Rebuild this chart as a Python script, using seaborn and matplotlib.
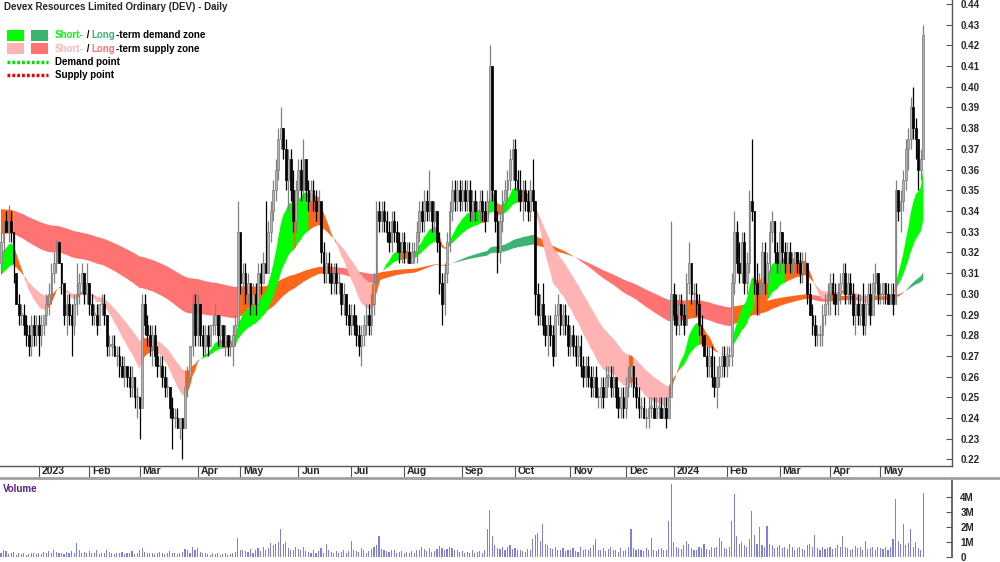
import numpy as np
import pandas as pd
import matplotlib
matplotlib.use("Agg")
import matplotlib.pyplot as plt
import matplotlib.transforms as mtransforms
from matplotlib.patches import Rectangle
import seaborn as sns

# ASX trading days on the chart
start_date = "2022-12-08"
end_date = "2024-05-24"
asx_holidays = ["2022-12-26", "2022-12-27", "2023-01-02", "2023-01-26", "2023-04-07",
                "2023-04-10", "2023-04-25", "2023-06-12", "2023-12-25", "2023-12-26",
                "2024-01-01", "2024-01-26", "2024-03-29", "2024-04-01", "2024-04-25"]

# prices in cents, one line per month (Dec-22 ... May-24)
opens = [
    31.5,32.5,33.5,33.0,33.5,33.0,31.0,29.5,29.0,29.0,28.5,28.0,27.5,28.5,28.0,
    28.5,28.0,28.5,29.0,29.5,30.0,31.0,31.5,32.5,31.5,30.5,29.0,29.5,29.0,28.5,29.5,30.0,30.5,31.0,30.0,
    30.5,29.5,29.0,29.0,28.5,29.5,29.5,29.0,27.5,27.5,27.5,27.0,27.0,26.5,26.0,26.5,26.0,25.5,26.0,25.0,
    25.0,24.5,29.5,28.5,28.0,27.5,28.0,27.0,26.5,26.5,26.0,25.5,25.5,24.5,24.0,24.0,23.5,24.0,23.5,25.5,26.0,27.5,29.5,
    28.0,29.5,28.0,27.5,28.0,27.5,28.5,28.5,29.0,28.0,28.5,27.5,28.0,27.5,27.5,28.0,28.5,
    33.0,30.5,31.0,30.0,30.5,29.5,30.0,29.5,31.0,30.5,31.5,31.0,33.0,34.0,35.0,36.0,37.5,38.0,37.0,35.5,36.5,35.0,33.5,
    35.0,36.0,35.0,36.5,35.0,34.5,35.0,34.5,34.0,34.5,32.0,31.0,31.5,31.0,30.5,31.0,30.5,30.5,29.5,30.0,29.0,
    28.5,29.0,28.5,28.0,27.5,28.0,28.5,29.0,28.5,29.5,30.5,34.0,33.5,34.0,33.5,33.0,32.5,33.5,33.0,32.5,32.0,
    32.5,32.0,32.0,31.5,32.0,32.0,33.0,34.0,33.5,34.5,34.0,34.5,33.5,34.0,32.5,30.5,29.5,31.0,32.5,34.0,35.0,34.5,35.0,
    34.5,35.0,34.5,35.0,34.0,34.5,34.0,34.0,34.5,34.0,33.5,34.5,41.0,35.0,33.5,32.0,33.5,34.5,35.0,35.5,36.5,
    37.0,35.5,35.0,34.5,35.0,34.5,34.0,35.0,34.5,30.0,29.0,29.5,28.5,28.0,28.5,28.0,27.0,29.0,29.5,28.5,29.0,28.5,
    27.5,28.0,27.5,27.0,27.5,26.5,26.0,26.5,26.0,25.5,26.0,25.0,25.0,25.5,25.0,26.0,26.0,25.5,26.0,25.0,24.5,25.0,
    24.5,25.5,26.0,26.5,25.5,25.0,24.5,24.5,24.0,24.0,24.5,24.5,24.0,24.5,24.5,24.0,24.5,24.0,25.0,
    30.0,29.0,28.5,29.5,29.0,28.5,30.5,31.5,30.0,30.0,29.5,28.5,28.0,27.0,26.5,27.0,26.0,25.5,26.0,26.5,27.0,
    26.5,27.0,27.0,30.5,33.0,31.5,31.0,32.5,30.5,31.5,34.5,34.0,30.5,30.0,30.5,32.0,30.5,31.5,33.0,33.5,32.0,
    31.5,33.0,32.0,31.5,32.0,31.5,31.5,32.0,31.5,31.0,31.5,31.5,30.0,29.0,28.5,28.0,28.0,28.0,29.0,29.5,
    30.0,30.5,30.0,29.5,30.0,30.5,31.0,30.0,30.5,30.0,29.0,29.5,29.0,29.5,28.5,29.5,30.0,29.0,30.5,31.0,
    30.0,30.0,30.5,30.0,29.5,30.0,29.5,35.0,34.0,34.5,35.5,37.0,37.5,39.0,38.0,37.5,36.0,36.5,
]
highs = [
    33.0,33.5,34.0,34.3,34.0,33.0,31.0,30.0,29.5,29.5,29.0,28.5,29.0,29.0,29.0,
    29.0,29.0,29.0,30.0,30.5,31.5,32.0,32.6,32.5,31.5,30.5,30.0,30.0,29.5,30.0,31.5,31.0,31.5,31.0,31.5,
    30.5,30.0,29.5,29.5,29.5,30.0,30.0,29.0,28.0,28.0,28.0,27.5,27.5,27.0,27.0,26.5,26.5,26.5,26.0,25.5,
    25.0,30.0,30.0,29.0,28.5,28.5,28.5,27.5,27.0,27.0,26.5,26.0,25.5,25.0,24.5,24.5,24.0,24.0,25.5,26.5,27.5,30.0,30.0,
    30.0,29.5,28.5,28.5,28.5,28.5,29.0,29.5,29.0,29.0,28.5,28.5,28.0,28.0,28.5,29.0,34.5,
    33.0,31.5,31.5,31.0,30.5,30.5,30.5,31.5,31.5,32.0,34.5,33.5,34.5,35.5,36.5,38.0,39.0,38.0,37.5,37.0,37.0,36.0,35.5,
    36.5,36.5,37.5,36.5,35.5,35.5,35.5,35.0,35.0,34.5,32.5,32.0,32.0,31.5,31.5,31.5,31.0,30.5,30.5,30.0,29.5,
    29.5,29.5,29.0,28.5,28.5,29.0,29.5,29.5,30.0,31.0,34.5,34.5,34.5,34.5,34.0,33.5,34.0,34.0,33.5,33.0,33.0,
    33.0,32.5,32.5,32.5,32.5,33.5,34.5,34.5,35.0,35.0,36.0,34.5,34.5,34.0,33.0,31.0,31.5,33.0,34.5,35.5,35.5,35.5,35.5,
    35.5,35.5,35.5,35.5,35.0,35.0,34.5,35.0,35.0,34.5,35.0,42.0,41.0,35.0,34.0,34.0,35.0,35.5,36.0,37.0,37.5,
    37.5,36.0,36.0,35.5,35.5,35.0,35.5,36.5,34.5,30.5,30.0,30.5,29.0,29.0,29.0,28.5,29.5,30.0,29.5,29.5,29.5,29.0,
    28.5,28.5,28.0,28.0,28.0,27.0,27.0,27.0,26.5,26.5,26.5,25.5,26.0,26.0,26.5,26.5,26.5,26.5,26.0,25.5,25.5,25.5,
    26.0,26.5,27.0,26.5,26.0,25.5,25.0,25.0,24.5,25.0,25.0,25.0,25.0,25.0,25.0,25.0,25.0,25.5,33.5,
    30.5,30.0,30.0,30.0,29.5,31.0,32.5,31.5,30.5,30.5,30.0,29.0,28.0,27.5,27.5,27.5,27.0,26.5,27.0,27.5,27.5,
    27.5,27.5,31.0,34.0,33.5,32.5,33.0,33.0,32.0,35.0,37.5,34.0,31.5,31.0,32.5,32.5,32.0,33.5,34.0,33.5,32.5,
    33.5,33.0,32.5,32.5,32.5,32.0,32.0,32.0,32.0,32.0,32.0,31.5,30.5,29.5,29.0,28.5,28.5,29.5,30.0,30.5,
    31.0,31.0,30.5,30.5,31.0,31.5,31.5,31.0,31.0,30.5,30.0,30.0,30.0,30.5,30.0,30.5,30.5,31.0,31.5,31.0,
    30.5,30.5,30.5,30.5,30.5,30.5,35.5,35.0,35.0,36.0,37.5,38.0,39.5,40.0,38.5,37.5,37.0,43.0,
]
lows = [
    31.0,32.0,33.0,32.5,32.5,30.5,29.5,28.5,28.5,28.0,27.5,27.0,27.0,27.5,27.5,
    27.0,27.5,28.0,28.5,29.0,29.5,30.5,31.0,31.5,30.0,28.5,28.0,28.5,27.0,28.0,29.0,29.5,30.0,29.5,29.5,
    29.0,28.5,28.5,28.0,28.5,29.0,28.5,27.0,27.0,27.0,27.0,26.5,26.0,26.0,25.5,25.5,25.0,25.0,24.5,24.0,
    23.0,24.5,28.0,27.5,27.0,26.5,26.5,26.0,26.0,25.5,25.0,25.0,24.0,22.5,23.5,23.5,23.0,22.0,23.5,25.0,26.0,27.0,27.5,
    27.5,27.5,27.0,27.0,27.0,27.5,28.0,28.0,27.5,27.5,27.5,27.0,27.0,27.0,26.5,27.5,28.5,
    30.0,29.5,29.5,29.5,29.0,29.0,29.0,29.5,30.0,30.5,31.0,31.0,32.5,33.5,34.5,35.5,37.0,36.5,35.0,34.0,34.5,33.0,33.0,
    34.5,34.5,34.5,34.5,34.0,34.0,34.0,33.5,33.5,31.5,30.5,30.5,30.5,30.0,30.0,30.0,30.0,29.0,29.0,28.5,28.0,
    28.0,28.0,27.5,27.0,26.5,27.5,28.0,28.0,28.0,29.0,30.5,33.0,33.0,33.0,32.5,32.0,32.0,32.5,32.0,31.5,31.5,
    31.5,31.5,31.5,31.5,31.5,31.5,32.5,33.0,33.0,33.5,33.5,33.0,33.0,32.0,30.0,28.5,29.0,30.5,32.0,33.5,34.0,34.0,34.0,
    34.0,34.0,34.0,33.5,33.5,33.5,33.5,33.5,33.5,33.0,33.5,34.5,34.5,33.0,31.0,31.5,33.0,34.0,34.5,35.0,35.5,
    35.0,34.5,34.0,33.5,34.0,33.5,33.5,34.0,29.0,28.5,28.5,28.0,27.5,27.0,27.5,26.5,27.0,28.5,28.0,28.0,28.0,27.0,
    27.0,27.0,26.5,26.5,26.0,25.5,25.5,25.5,25.0,25.0,25.0,24.5,24.5,24.5,25.0,25.5,25.0,25.0,24.5,24.0,24.0,24.0,
    24.0,25.0,25.5,25.0,24.5,24.0,24.0,24.0,23.5,23.5,24.0,24.0,24.0,24.0,24.0,24.0,23.5,24.0,25.0,
    28.5,28.0,28.0,28.5,28.0,28.5,30.0,29.5,29.5,29.0,28.0,27.5,27.0,26.0,26.0,25.5,25.0,24.5,25.5,26.0,26.0,
    26.0,26.5,26.5,30.0,31.0,30.5,30.5,30.0,30.0,31.0,33.5,30.0,29.0,29.0,30.0,30.0,30.0,31.0,32.5,31.5,31.0,
    31.0,31.5,31.0,31.0,31.0,31.0,31.0,31.0,30.5,30.5,31.0,29.5,29.0,28.0,27.5,27.5,27.5,27.5,28.5,29.0,
    29.0,29.5,29.0,29.0,29.5,30.0,29.5,29.5,29.5,28.5,28.0,28.5,28.5,28.0,28.0,29.0,28.5,29.0,30.0,29.5,
    29.5,29.5,29.5,29.5,29.5,29.0,29.5,33.5,33.0,34.0,35.0,36.0,37.0,37.5,36.5,35.0,35.5,36.5,
]
closes = [
    32.5,33.5,33.0,33.5,33.0,31.5,29.5,29.0,29.0,28.5,28.0,27.5,28.5,28.0,28.5,
    28.0,28.5,29.0,29.5,30.0,31.0,31.5,32.5,31.5,30.5,29.0,29.5,29.0,28.5,29.5,30.0,30.5,31.0,30.0,30.5,
    29.5,29.0,29.0,28.5,29.5,29.5,29.0,27.5,27.5,27.5,27.0,27.0,26.5,26.0,26.5,26.0,25.5,26.0,25.0,25.0,
    24.5,29.5,28.5,28.0,27.5,28.0,27.0,26.5,26.5,26.0,25.5,25.5,24.5,24.0,24.0,23.5,24.0,23.5,25.5,26.0,27.5,29.5,28.0,
    29.5,28.0,27.5,28.0,27.5,28.5,28.5,29.0,28.0,28.5,27.5,28.0,27.5,27.5,28.0,28.5,33.0,
    30.5,31.0,30.0,30.5,29.5,30.0,29.5,31.0,30.5,31.5,31.0,33.0,34.0,35.0,36.0,37.5,38.0,37.0,35.5,36.5,35.0,33.5,35.0,
    36.0,35.0,36.5,35.0,34.5,35.0,34.5,34.0,34.5,32.0,31.0,31.5,31.0,30.5,31.0,30.5,30.5,29.5,30.0,29.0,28.5,
    29.0,28.5,28.0,27.5,28.0,28.5,29.0,28.5,29.5,30.5,34.0,33.5,34.0,33.5,33.0,32.5,33.5,33.0,32.5,32.0,32.5,
    32.0,32.0,31.5,32.0,32.0,33.0,34.0,33.5,34.5,34.0,34.5,33.5,34.0,32.5,30.5,29.5,31.0,32.5,34.0,35.0,34.5,35.0,34.5,
    35.0,34.5,35.0,34.0,34.5,34.0,34.0,34.5,34.0,33.5,34.5,41.0,35.0,33.5,32.0,33.5,34.5,35.0,35.5,36.5,37.0,
    35.5,35.0,34.5,35.0,34.5,34.0,35.0,34.5,30.0,29.0,29.5,28.5,28.0,28.5,28.0,27.0,29.0,29.5,28.5,29.0,28.5,27.5,
    28.0,27.5,27.0,27.5,26.5,26.0,26.5,26.0,25.5,26.0,25.0,25.0,25.5,25.0,26.0,26.0,25.5,26.0,25.0,24.5,25.0,24.5,
    25.5,26.0,26.5,25.5,25.0,24.5,24.5,24.0,24.0,24.5,24.5,24.0,24.5,24.5,24.0,24.5,24.0,25.0,30.0,
    29.0,28.5,29.5,29.0,28.5,30.5,31.5,30.0,30.0,29.5,28.5,28.0,27.0,26.5,27.0,26.0,25.5,26.0,26.5,27.0,26.5,
    27.0,27.0,30.5,33.0,31.5,31.0,32.5,30.5,31.5,34.5,34.0,30.5,30.0,30.5,32.0,30.5,31.5,33.0,33.5,32.0,31.5,
    33.0,32.0,31.5,32.0,31.5,31.5,32.0,31.5,31.0,31.5,31.5,30.0,29.0,28.5,28.0,28.0,28.0,29.0,29.5,30.0,
    30.5,30.0,29.5,30.0,30.5,31.0,30.0,30.5,30.0,29.0,29.5,29.0,29.5,28.5,29.5,30.0,29.0,30.5,31.0,30.0,
    30.0,30.5,30.0,29.5,30.0,29.5,35.0,34.0,34.5,35.5,37.0,37.5,39.0,38.0,37.5,36.0,36.5,42.5,
]
# volume in millions of shares
volume_m = [
    0.25,0.45,0.40,0.20,0.30,0.35,0.15,0.30,0.20,0.25,0.15,0.20,0.30,0.25,0.20,
    0.30,0.20,0.35,0.25,0.40,0.30,0.45,0.35,0.25,0.30,0.20,0.35,0.25,0.40,0.30,0.95,0.45,0.30,0.35,0.25,
    0.40,0.30,0.25,0.45,0.20,0.30,0.25,0.50,0.35,0.30,0.20,0.25,0.30,0.35,0.20,0.25,0.30,0.40,0.20,0.30,
    0.45,0.60,0.35,0.30,0.25,0.30,0.20,0.25,0.35,0.30,0.20,0.25,0.40,0.30,0.25,0.20,0.30,0.35,0.55,0.45,0.30,0.70,0.50,
    0.60,0.35,0.30,0.25,0.20,0.15,0.25,0.20,0.30,0.15,0.20,0.25,0.15,0.20,0.30,0.35,1.25,
    0.50,0.45,0.40,0.35,0.55,0.30,0.45,0.60,0.40,0.70,0.50,0.60,0.95,0.80,0.90,1.00,1.90,0.85,1.00,0.60,0.50,0.45,0.70,
    0.55,0.45,0.70,0.40,0.35,0.30,0.45,0.30,0.40,0.60,0.30,0.90,0.45,0.35,0.30,0.40,0.25,0.35,0.45,0.30,0.40,
    1.10,0.50,0.40,0.35,0.60,0.45,0.30,0.40,0.55,0.70,0.80,1.40,0.55,0.45,0.40,0.35,0.50,0.45,0.30,0.35,0.40,
    0.30,0.35,0.25,0.40,0.30,0.45,0.50,0.70,0.55,0.40,0.60,0.35,0.40,0.55,0.75,0.60,0.50,0.55,0.70,0.60,0.45,0.50,0.35,
    0.40,0.30,0.35,0.25,0.45,0.30,0.35,0.40,0.30,0.50,1.90,3.15,1.40,0.80,0.60,0.55,0.70,0.50,0.65,0.80,0.55,
    0.60,0.45,0.50,0.40,0.35,0.55,0.45,1.20,1.50,1.60,1.10,2.20,0.90,0.80,0.60,0.55,0.70,0.50,0.45,0.60,0.40,0.50,
    0.45,0.60,0.40,0.35,0.70,0.50,0.55,0.45,0.60,0.80,1.20,0.50,0.45,0.60,0.40,0.55,0.70,0.45,0.50,0.35,0.60,0.40,
    0.50,0.70,1.90,0.60,0.45,0.55,0.50,0.40,0.60,0.45,1.30,0.50,0.40,0.55,0.60,0.45,0.50,2.40,4.90,
    1.00,0.70,0.60,0.55,0.80,1.10,0.90,0.60,0.50,0.45,0.70,0.60,0.85,0.55,0.50,0.65,0.60,0.70,1.30,1.10,0.60,
    0.55,0.70,2.40,4.20,1.40,0.90,1.00,0.80,0.70,1.20,3.10,1.50,0.90,2.00,0.80,0.70,2.10,0.90,0.80,0.60,0.70,
    0.80,0.60,0.70,0.55,0.90,0.65,0.50,0.60,0.70,0.55,0.45,0.80,0.90,0.70,1.50,0.60,0.50,0.65,0.55,0.60,
    0.70,0.55,0.60,0.80,0.65,1.40,0.70,0.60,0.50,0.55,0.75,0.60,0.65,0.50,1.10,0.55,0.60,0.70,0.50,0.65,
    0.60,0.55,0.65,0.50,0.70,1.20,3.90,1.10,0.90,2.20,0.80,0.95,1.90,0.70,1.00,0.60,0.50,4.30,
]

short_spans = (15, 35)
long_spans = (120, 200)
short_seed = (0.318, 0.308)
long_seed = (0.329, 0.341)

price_ticks = [0.22, 0.23, 0.24, 0.25, 0.26, 0.27, 0.28, 0.29, 0.30, 0.31, 0.32,
               0.33, 0.34, 0.35, 0.36, 0.37, 0.38, 0.39, 0.40, 0.41, 0.42, 0.43, 0.44]
volume_ticks = [0, 1, 2, 3, 4]
volume_labels = ["0", "1M", "2M", "3M", "4M"]

SHORT_DEMAND = "#00FF00"
LONG_DEMAND = "#3CB371"
SHORT_SUPPLY = "#FFB3B3"
LONG_SUPPLY = "#FF7373"
MIXED = "#FF661A"


def ema(values, span, seed):
    alpha = 2.0 / (span + 1)
    out = np.empty(len(values))
    prev = seed
    for i, v in enumerate(values):
        prev = prev + alpha * (v - prev)
        out[i] = prev
    return out


def zone_state(fast, slow):
    rising = np.r_[True, np.diff(fast) > 0]
    above = fast > slow
    return np.where(above & rising, 0, np.where(~above & ~rising, 2, 1))


def draw_zone(ax, x, fast, slow, colors, z):
    state = zone_state(fast, slow)
    for k, col in enumerate(colors):
        m = state == k
        m = m | np.r_[False, m[:-1]]
        ax.fill_between(x, fast, slow, where=m, color=col, lw=0, zorder=z)


dates = pd.bdate_range(start_date, end_date, freq="C", holidays=asx_holidays)
df = pd.DataFrame({"open": np.array(opens) / 100, "high": np.array(highs) / 100,
                   "low": np.array(lows) / 100, "close": np.array(closes) / 100,
                   "volume": volume_m}, index=dates)
n = len(df)
x = np.arange(n)

sns.set_theme(style="white")
plt.rcParams["font.family"] = ["Liberation Sans", "DejaVu Sans"]
plt.rcParams["font.weight"] = "bold"

fig = plt.figure(figsize=(10, 5.62), dpi=100)
ax = fig.add_axes([0, 1 - 466 / 562, 0.952, 466 / 562])
axv = fig.add_axes([0, 5 / 562, 0.952, 77 / 562])

# zones
c = df["close"].values
sf, ss = ema(c, short_spans[0], short_seed[0]), ema(c, short_spans[1], short_seed[1])
lf, ls = ema(c, long_spans[0], long_seed[0]), ema(c, long_spans[1], long_seed[1])
draw_zone(ax, x, lf, ls, [LONG_DEMAND, MIXED, LONG_SUPPLY], 1)
draw_zone(ax, x, sf, ss, [SHORT_DEMAND, MIXED, SHORT_SUPPLY], 2)

# candles
o = df["open"].values
up = c >= o
ax.vlines(x[up], df["low"].values[up], df["high"].values[up], colors="#808080", lw=0.9, zorder=3)
ax.vlines(x[~up], df["low"].values[~up], df["high"].values[~up], colors="black", lw=0.9, zorder=3)
lo = np.minimum(o, c)
h = np.maximum(np.abs(c - o), 0.0006)
ax.bar(x[up], h[up], bottom=lo[up], width=0.7, color="#B4B4B4", edgecolor="#7A7A7A", lw=0.5, zorder=4)
ax.bar(x[~up], h[~up], bottom=lo[~up], width=0.7, color="black", edgecolor="black", lw=0.5, zorder=4)

xlim = (-0.4, 377.4)
ax.set_xlim(xlim)
ax.set_ylim(0.44 - 462 / 2070, 0.44 + 4 / 2070)
for s in ["top", "left"]:
    ax.spines[s].set_visible(False)
for s in ["bottom", "right"]:
    ax.spines[s].set_color("#555555")
    ax.spines[s].set_linewidth(1)
ax.yaxis.tick_right()
ax.set_yticks(price_ticks)
ax.set_yticklabels([f"{t:.2f}" for t in price_ticks])
ax.tick_params(axis="y", direction="in", length=4, width=0.8, color="#555555",
               pad=6, labelsize=7, right=True, left=False)

month = dates.to_period("M")
starts = np.flatnonzero(np.r_[False, month[1:] != month[:-1]])
mlabels = [str(d.year) if d.month == 1 else d.strftime("%b") for d in dates[starts]]
ax.set_xticks(starts)
ax.set_xticklabels(mlabels)
ax.tick_params(axis="x", direction="out", length=8, width=0.8, color="#555555",
               pad=-8, labelsize=7.5, bottom=True)
offset = mtransforms.ScaledTranslation(3 / 100, 0, fig.dpi_scale_trans)
for lab in ax.get_xticklabels():
    lab.set_horizontalalignment("left")
    lab.set_transform(lab.get_transform() + offset)
    lab.set_fontweight("bold")
for lab in ax.get_yticklabels():
    lab.set_fontweight("bold")
ax.grid(False)

# volume
vol = pd.DataFrame({"bar": x, "volume": df["volume"].values})
sns.barplot(data=vol, x="bar", y="volume", native_scale=True, color="#7F7FE0",
            saturation=1, width=0.45, linewidth=0, errorbar=None, ax=axv)
axv.set_xlim(xlim)
axv.set_ylim(0, 77 / 15)
axv.set_xlabel("")
axv.set_ylabel("")
axv.set_xticks([])
for s in ["top", "left", "bottom"]:
    axv.spines[s].set_visible(False)
axv.spines["right"].set_color("#555555")
axv.yaxis.tick_right()
axv.set_yticks(volume_ticks)
axv.set_yticklabels(volume_labels)
axv.tick_params(axis="y", direction="in", length=4, width=0.8, color="#555555",
                pad=6, labelsize=7, right=True, left=False)
for lab in axv.get_yticklabels():
    lab.set_fontweight("bold")

# overlay in pixel coordinates for title, legend and separators
ov = fig.add_axes([0, 0, 1, 1], zorder=10)
ov.set_xlim(0, 1000)
ov.set_ylim(562, 0)
ov.axis("off")
ov.plot([0, 1000], [478, 478], color="#A0A0A0", lw=2)
ov.text(4, 7, "Devex Resources Limited Ordinary (DEV) - Daily", fontsize=7,
        fontweight="bold", va="center", ha="left")
ov.text(3, 489, "Volume", color="#5B1E8C", fontsize=7, fontweight="bold", va="center")

ov.add_patch(Rectangle((7, 30), 17, 11, color=SHORT_DEMAND, lw=0))
ov.add_patch(Rectangle((31, 30), 17, 11, color=LONG_DEMAND, lw=0))
ov.add_patch(Rectangle((7, 43), 17, 11, color=SHORT_SUPPLY, lw=0))
ov.add_patch(Rectangle((31, 43), 17, 11, color=LONG_SUPPLY, lw=0))
ov.plot([7, 48], [62, 62], color="#00DD00", lw=2.5, ls=(0, (0.8, 0.6)))
ov.plot([7, 48], [75, 75], color="#EE0000", lw=2.5, ls=(0, (0.8, 0.6)))


def colored_text(x0, y0, parts):
    t = ov.text(x0, y0, parts[0][0], color=parts[0][1], fontsize=7,
                fontweight="bold", va="center", ha="left")
    for s, col in parts[1:]:
        t = ov.annotate(s, xy=(1, 0), xycoords=t, va="bottom", ha="left",
                        color=col, fontsize=7, fontweight="bold")


colored_text(55, 35.5, [("Short-", SHORT_DEMAND), (" / ", "black"), ("Long", LONG_DEMAND),
                        ("-term demand zone", "black")])
colored_text(55, 48.5, [("Short-", SHORT_SUPPLY), (" / ", "black"), ("Long", LONG_SUPPLY),
                        ("-term supply zone", "black")])
colored_text(55, 62, [("Demand point", "black")])
colored_text(55, 75, [("Supply point", "black")])

fig.savefig("out.png", dpi=100)
